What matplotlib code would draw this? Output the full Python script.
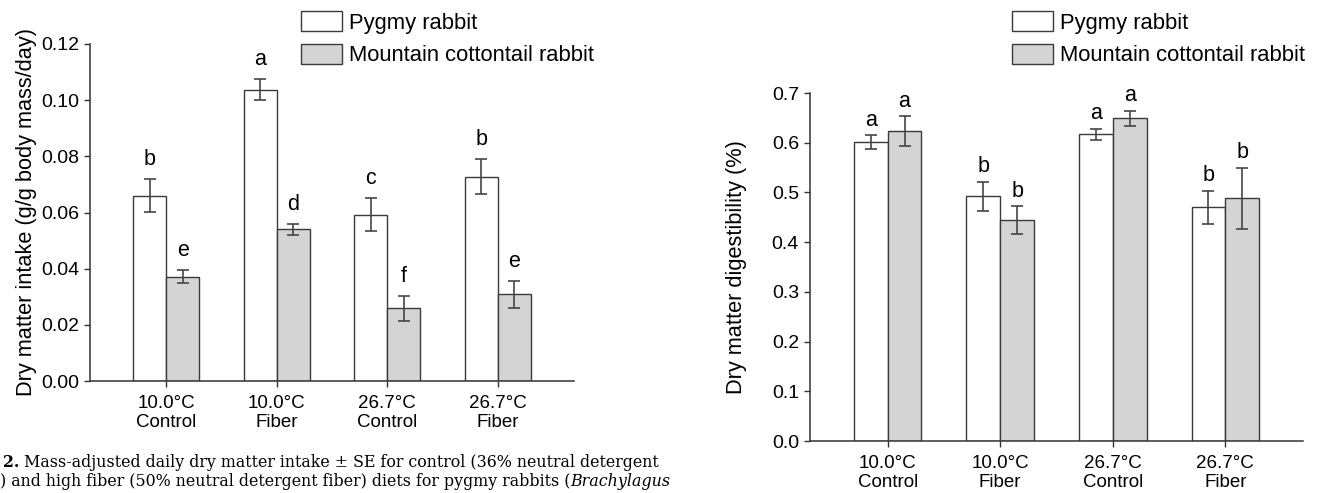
"""
Dry matter intake and digestibility of pygmy vs mountain cottontail rabbits.
Two grouped bar panels with SE error bars and significance letters.
"""

import numpy as np
import matplotlib.pyplot as plt

# ---- data ----
groups = ["10.0°C\nControl", "10.0°C\nFiber", "26.7°C\nControl", "26.7°C\nFiber"]
series = ["Pygmy rabbit", "Mountain cottontail rabbit"]

intake_pygmy = [0.0660, 0.1037, 0.0592, 0.0728]
intake_pygmy_se = [0.0060, 0.0038, 0.0059, 0.0063]
intake_cotton = [0.0372, 0.0540, 0.0259, 0.0309]
intake_cotton_se = [0.0022, 0.0020, 0.0045, 0.0048]
intake_pygmy_letters = ["b", "a", "c", "b"]
intake_cotton_letters = ["e", "d", "f", "e"]

digest_pygmy = [0.601, 0.492, 0.617, 0.470]
digest_pygmy_se = [0.014, 0.029, 0.011, 0.033]
digest_cotton = [0.623, 0.444, 0.649, 0.488]
digest_cotton_se = [0.030, 0.028, 0.015, 0.061]
digest_pygmy_letters = ["a", "b", "a", "b"]
digest_cotton_letters = ["a", "b", "a", "b"]

intake_ticks = [0.00, 0.02, 0.04, 0.06, 0.08, 0.10, 0.12]
digest_ticks = [0.0, 0.1, 0.2, 0.3, 0.4, 0.5, 0.6, 0.7]

caption_1 = "Mass-adjusted daily dry matter intake \u00b1 SE for control (36% neutral detergent"
caption_2 = ") and high fiber (50% neutral detergent fiber) diets for pygmy rabbits ("

# ---- style ----
plt.rcParams['font.family'] = ['Liberation Sans', 'DejaVu Sans']
EDGE = "#3a3a3a"
GRAY = "#d4d4d4"
W_PX, H_PX = 1317, 493


def draw_panel(ax, a, a_se, b, b_se, a_lab, b_lab, ticks, fmt, ylabel, off):
    x = np.arange(len(groups))
    w = 0.3
    err = dict(ecolor="#454545", elinewidth=1.2, capsize=4, capthick=1.2)
    ax.bar(x - w / 2, a, w, yerr=a_se, color="white", edgecolor=EDGE,
           linewidth=1.0, error_kw=err, label=series[0])
    ax.bar(x + w / 2, b, w, yerr=b_se, color=GRAY, edgecolor=EDGE,
           linewidth=1.0, error_kw=err, label=series[1])
    for xi, v, s, t in zip(x - w / 2, a, a_se, a_lab):
        ax.annotate(t, (xi, v + s), xytext=(0, off), textcoords="offset points",
                    ha="center", va="baseline", fontsize=15.5)
    for xi, v, s, t in zip(x + w / 2, b, b_se, b_lab):
        ax.annotate(t, (xi, v + s), xytext=(0, off), textcoords="offset points",
                    ha="center", va="baseline", fontsize=15.5)
    ax.set_xlim(-0.69, 3.69)
    ax.set_ylim(ticks[0], ticks[-1])
    ax.set_yticks(ticks)
    ax.set_yticklabels([fmt.format(t) for t in ticks])
    ax.set_xticks(x)
    ax.set_xticklabels(groups)
    for s in ["top", "right"]:
        ax.spines[s].set_visible(False)
    for s in ["left", "bottom"]:
        ax.spines[s].set_color("#333333")
        ax.spines[s].set_linewidth(1.1)
    ax.tick_params(axis="y", length=4, width=1, color="#333333", pad=4, labelsize=14)
    ax.tick_params(axis="x", length=4, width=1, color="#333333", pad=6, labelsize=13.5)
    ax.set_ylabel(ylabel, fontsize=15.7)


fig = plt.figure(figsize=(W_PX / 100, H_PX / 100), dpi=100)

ax1 = fig.add_axes([90 / W_PX, 1 - 381 / H_PX, 484 / W_PX, 337 / H_PX])
draw_panel(ax1, intake_pygmy, intake_pygmy_se, intake_cotton, intake_cotton_se,
           intake_pygmy_letters, intake_cotton_letters, intake_ticks, "{:.2f}",
           "Dry matter intake (g/g body mass/day)", 10)
ax1.yaxis.set_label_coords(-0.11, 0.5)

ax2 = fig.add_axes([810 / W_PX, 1 - 441 / H_PX, 493 / W_PX, 348 / H_PX])
draw_panel(ax2, digest_pygmy, digest_pygmy_se, digest_cotton, digest_cotton_se,
           digest_pygmy_letters, digest_cotton_letters, digest_ticks, "{:.1f}",
           "Dry matter digestibility (%)", 7)
ax2.yaxis.set_label_coords(-0.128, 0.5)

legend_kw = dict(loc="upper left", frameon=False, fontsize=15.8, borderpad=0,
                 borderaxespad=0, handlelength=1.87, handleheight=1.05,
                 handletextpad=0.3, labelspacing=0.45)
fig.legend(*ax1.get_legend_handles_labels(),
           bbox_to_anchor=(301 / W_PX, 1 - 11 / H_PX), **legend_kw)
fig.legend(*ax2.get_legend_handles_labels(),
           bbox_to_anchor=(1012 / W_PX, 1 - 11 / H_PX), **legend_kw)

# ---- cut-off caption at bottom left ----
renderer = fig.canvas.get_renderer()
serif = ['DejaVu Serif']
cap_size = 11.4
t_num = fig.text(3 / W_PX, 1 - 467 / H_PX, "2.", family=serif, fontsize=cap_size,
                 fontweight="bold", va="baseline")
bb = t_num.get_window_extent(renderer)
fig.text((bb.x1 + 5) / W_PX, 1 - 467 / H_PX, caption_1, family=serif,
         fontsize=cap_size, va="baseline")
t_2 = fig.text(0, 1 - 486 / H_PX, caption_2, family=serif, fontsize=cap_size,
               va="baseline")
bb = t_2.get_window_extent(renderer)
fig.text(bb.x1 / W_PX, 1 - 486 / H_PX, "Brachylagus", family=serif,
         fontsize=cap_size, style="italic", va="baseline")

fig.savefig("out.png", dpi=100)
